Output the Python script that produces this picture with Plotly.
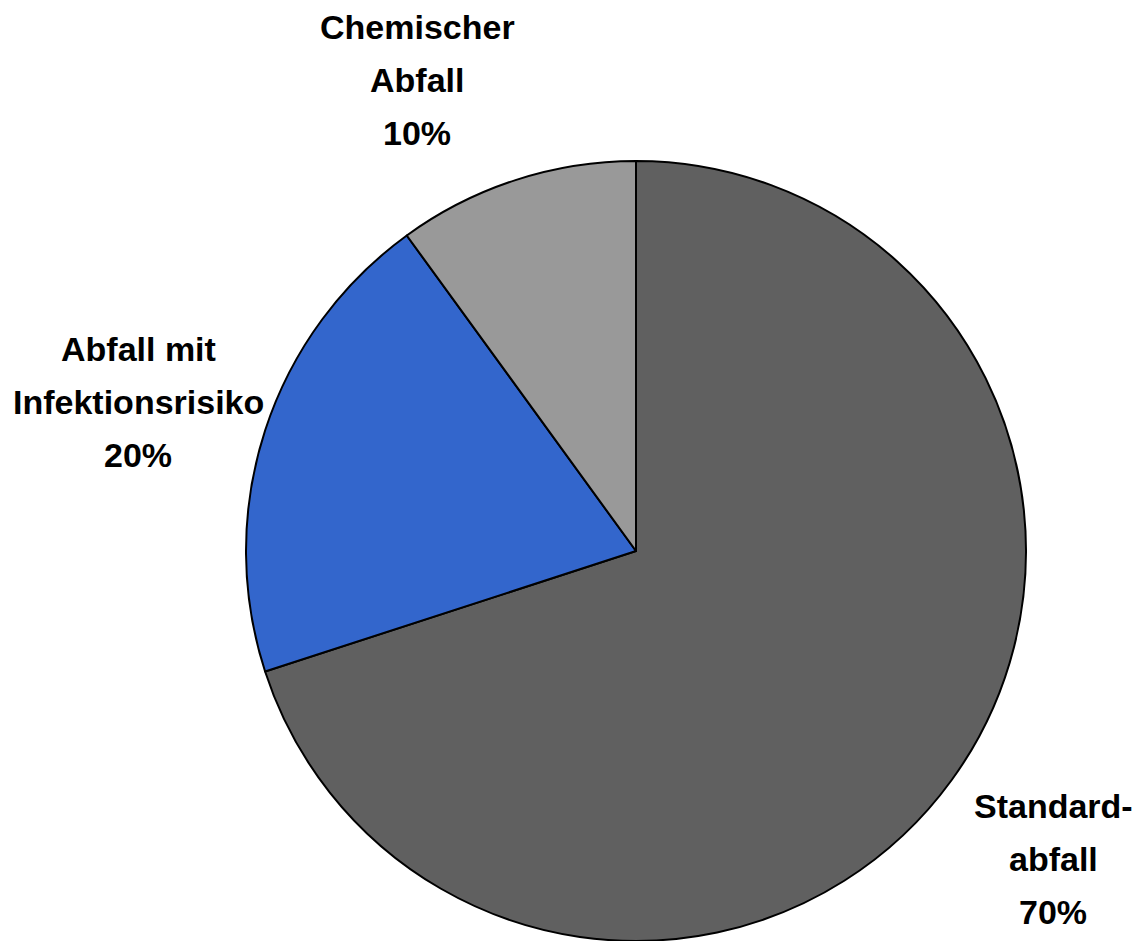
import plotly.graph_objects as go

labels = ["Standard-<br>abfall", "Abfall mit<br>Infektionsrisiko", "Chemischer<br>Abfall"]
values = [70, 20, 10]
colors = ["#606060", "#3366CC", "#999999"]

W, H = 1140, 941
# label line centers in pixels (layout only): x, first-line y
label_pos = [(1045, 798), (130, 341), (409, 19)]
LINE_STEP = 53

cx, cy, R = 628, 543, 390
fig = go.Figure(go.Pie(
    labels=labels, values=values, sort=False, direction="clockwise", rotation=0,
    marker=dict(colors=colors, line=dict(color="black", width=2)),
    textinfo="none", hoverinfo="label+percent", showlegend=False,
    domain=dict(x=[(cx - R) / W, (cx + R) / W], y=[(H - cy - R) / H, (H - cy + R) / H]),
))

total = sum(values)
font = dict(family="Liberation Sans, Arial", size=34, color="black")
for lab, val, (px, py) in zip(labels, values, label_pos):
    lines = lab.split("<br>") + [f"{round(100 * val / total)}%"]
    for i, line in enumerate(lines):
        fig.add_annotation(
            text=f"<b>{line}</b>",
            x=px / W, y=1 - (py + i * LINE_STEP) / H, xref="paper", yref="paper",
            xanchor="center", yanchor="middle", showarrow=False, align="center", font=font,
        )

fig.update_layout(width=W, height=H, margin=dict(l=0, r=0, t=0, b=0),
                  paper_bgcolor="white", plot_bgcolor="white")
fig.write_html("out.html")
